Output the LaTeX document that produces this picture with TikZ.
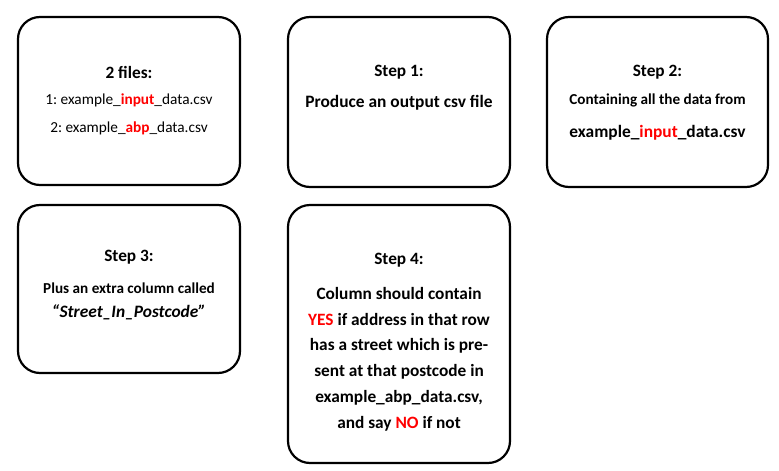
\documentclass[tikz,border=0pt]{standalone}
\usepackage{fontspec}
\setmainfont{Carlito}
\frenchspacing
\begin{document}
\begin{tikzpicture}[x=1pt,y=-1pt]
  \tikzset{stepbox/.style={draw=black,line width=2.2pt,rounded corners=22pt,fill=white},
    head/.style={font=\bfseries\fontsize{17.3}{20}\selectfont,inner sep=0pt},
    body/.style={font=\bfseries\fontsize{15.2}{18}\selectfont,inner sep=0pt},
    plain/.style={font=\fontsize{15.3}{18}\selectfont,inner sep=0pt},
    big/.style={font=\bfseries\fontsize{17.4}{20}\selectfont,inner sep=0pt}}
  \colorlet{hot}{red}
  \useasboundingbox (0,0) rectangle (779,471);
  % boxes
  \node[stepbox,minimum width=222pt,minimum height=168pt] (files) at (129,101) {};
  \node[stepbox,minimum width=222pt,minimum height=170pt] (one) at (399,102) {};
  \node[stepbox,minimum width=221pt,minimum height=170pt] (two) at (657.5,102) {};
  \node[stepbox,minimum width=222pt,minimum height=168pt] (three) at (129,289) {};
  \node[stepbox,minimum width=222pt,minimum height=258pt] (four) at (399,334) {};
  % 2 files
  \node[head] (fileshd) at (129,72) {2 files:};
  \node[plain] (fileA) at (129,100) {1: example\_\textbf{\textcolor{hot}{input}}\_data.csv};
  \node[plain] (fileB) at (129,128) {2: example\_\textbf{\textcolor{hot}{abp}}\_data.csv};
  % step 1
  \node[head] (onehd) at (399,72) {Step 1:};
  \node[big] (onetx) at (399,103) {Produce an output csv file};
  % step 2
  \node[head] (twohd) at (657.5,72) {Step 2:};
  \node[body] (twotx) at (657.5,100) {Containing all the data from};
  \node[big] (twofile) at (657.5,133) {example\_\textcolor{hot}{input}\_data.csv};
  % step 3
  \node[head] (threehd) at (129,257) {Step 3:};
  \node[body] (threetx) at (129,288) {Plus an extra column called};
  \node[big] (threecol) at (129,312) {\itshape ``Street\_In\_Postcode''};
  % step 4
  \node[head] (fourhd) at (399,260) {Step 4:};
  \node[big,align=center,font=\bfseries\fontsize{17.3}{25.8}\selectfont,anchor=north] (fourtx) at (399,287)
    {Column should contain\\
     \textcolor{hot}{YES} if address in that row\\
     has a street which is pre-\\
     sent at that postcode in\\
     example\_abp\_data.csv,\\
     and say \textcolor{hot}{NO} if not};
\end{tikzpicture}
\end{document}
